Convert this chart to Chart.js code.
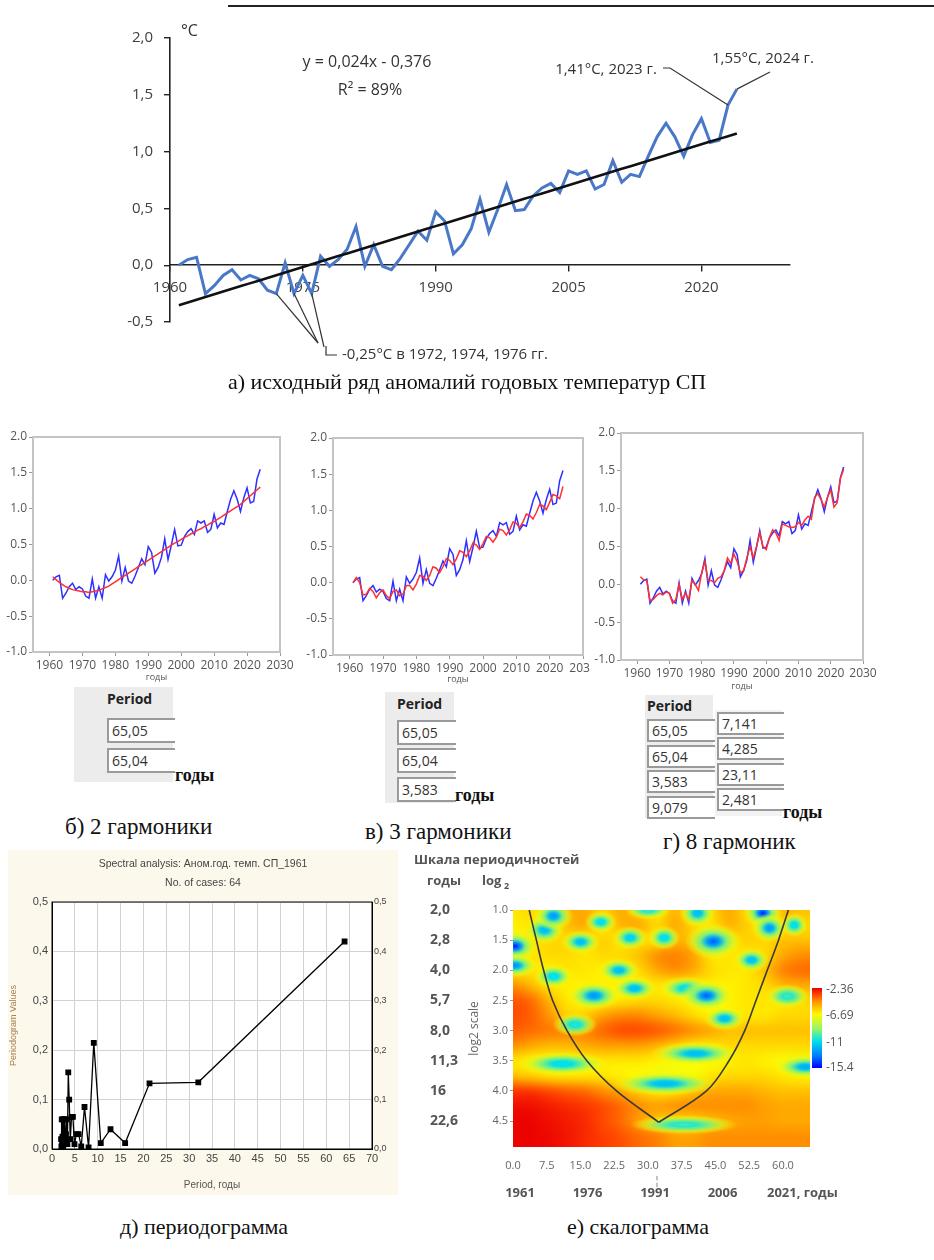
<!DOCTYPE html>
<html>
<head>
<meta charset="utf-8">
<script src="https://cdn.jsdelivr.net/npm/chart.js@4.4.1/dist/chart.umd.min.js"></script>
<style>
  body { margin: 0; background: #fff; width: 934px; height: 1260px; position: relative; overflow: hidden; font-family: "Open Sans", sans-serif; }
  .box { position: absolute; }
  .cap { position: absolute; font-family: "Liberation Serif", serif; font-size: 23px; color: #111; white-space: nowrap; line-height: 1; }
  .yrs { position: absolute; font-family: "Liberation Serif", serif; font-size: 18px; font-weight: bold; color: #111; line-height: 1; }
  .tbl { position: absolute; background: #ececec; }
  .ttl { position: absolute; font-size: 14px; font-weight: bold; color: #222; line-height: 1; }
  .fld { position: absolute; height: 21px; border: 2px solid #9a9a9a; border-right: none; background: #fff; font-size: 14px; color: #333; line-height: 21px; padding-left: 3px; box-sizing: content-box; }
  .cbl { position: absolute; font-size: 12px; color: #555; line-height: 1; }
</style>
</head>
<body>

<div class="box" style="left:228px;top:5px;width:706px;height:2px;background:#222"></div>

<div class="box" style="left:0;top:0;width:934px;height:370px"><canvas id="anom"></canvas></div>
<div class="cap" style="left:228px;top:371px;font-size:22px">а) исходный ряд аномалий годовых температур СП</div>

<div class="box" style="left:0;top:427px;width:300px;height:256px"><canvas id="harm2"></canvas></div>
<div class="box" style="left:300px;top:427px;width:290px;height:258px"><canvas id="harm3"></canvas></div>
<div class="box" style="left:590px;top:420px;width:300px;height:272px"><canvas id="harm8"></canvas></div>

<!-- period tables -->
<div class="tbl" style="left:74px;top:687px;width:99px;height:95px"></div>
<div class="ttl" style="left:107px;top:692px">Period</div>
<div class="fld" style="left:107px;top:718px;width:63px">65,05</div>
<div class="fld" style="left:107px;top:748px;width:63px">65,04</div>
<div class="yrs" style="left:175px;top:766px">годы</div>

<div class="tbl" style="left:385px;top:692px;width:69px;height:111px"></div>
<div class="ttl" style="left:397px;top:697px">Period</div>
<div class="fld" style="left:397px;top:720px;width:54px">65,05</div>
<div class="fld" style="left:397px;top:748px;width:54px">65,04</div>
<div class="fld" style="left:397px;top:777px;width:54px">3,583</div>
<div class="yrs" style="left:455px;top:786px">годы</div>

<div class="tbl" style="left:645px;top:695px;width:68px;height:123px"></div>
<div class="tbl" style="left:715px;top:710px;width:67px;height:106px;background:#f2f2f2"></div>
<div class="ttl" style="left:647px;top:699px">Period</div>
<div class="fld" style="left:647px;top:719px;width:63px;height:19px;line-height:19px">65,05</div>
<div class="fld" style="left:647px;top:745px;width:63px;height:19px;line-height:19px">65,04</div>
<div class="fld" style="left:647px;top:770px;width:63px;height:19px;line-height:19px">3,583</div>
<div class="fld" style="left:647px;top:796px;width:63px;height:19px;line-height:19px">9,079</div>
<div class="fld" style="left:717px;top:712px;width:62px;height:19px;line-height:19px">7,141</div>
<div class="fld" style="left:717px;top:737px;width:62px;height:19px;line-height:19px">4,285</div>
<div class="fld" style="left:717px;top:763px;width:62px;height:19px;line-height:19px">23,11</div>
<div class="fld" style="left:717px;top:788px;width:62px;height:19px;line-height:19px">2,481</div>
<div class="yrs" style="left:783px;top:803px">годы</div>

<div class="cap" style="left:65px;top:815px">б) 2 гармоники</div>
<div class="cap" style="left:365px;top:820px">в) 3 гармоники</div>
<div class="cap" style="left:663px;top:830px">г) 8 гармоник</div>

<div class="box" style="left:8px;top:850px;width:390px;height:345px;background:#fcf8ec"><canvas id="period"></canvas></div>
<div class="box" style="left:410px;top:848px;width:524px;height:360px"><canvas id="scalo"></canvas></div>
<div class="box" id="cbar" style="left:812px;top:988px;width:10px;height:80px"></div>
<div class="cbl" style="left:826px;top:983px">-2.36</div>
<div class="cbl" style="left:826px;top:1009px">-6.69</div>
<div class="cbl" style="left:826px;top:1036px">-11</div>
<div class="cbl" style="left:826px;top:1061px">-15.4</div>

<div class="cap" style="left:120px;top:1216px;font-size:22px">д) периодограмма</div>
<div class="cap" style="left:567px;top:1216px;font-size:22px">е) скалограмма</div>

<script>
// ---- data ----
var years = [1961, 1962, 1963, 1964, 1965, 1966, 1967, 1968, 1969, 1970,
  1971, 1972, 1973, 1974, 1975, 1976, 1977, 1978, 1979, 1980,
  1981, 1982, 1983, 1984, 1985, 1986, 1987, 1988, 1989, 1990,
  1991, 1992, 1993, 1994, 1995, 1996, 1997, 1998, 1999, 2000,
  2001, 2002, 2003, 2004, 2005, 2006, 2007, 2008, 2009, 2010,
  2011, 2012, 2013, 2014, 2015, 2016, 2017, 2018, 2019, 2020,
  2021, 2022, 2023, 2024];

// annual temperature anomalies, °C
var anomaly = [0.00, 0.05, 0.07, -0.25, -0.18, -0.09, -0.04, -0.13, -0.09, -0.12,
  -0.22, -0.25, 0.02, -0.25, -0.09, -0.25, 0.08, -0.01, 0.05, 0.14,
  0.34, -0.01, 0.18, -0.01, -0.04, 0.06, 0.18, 0.30, 0.22, 0.47,
  0.39, 0.10, 0.18, 0.32, 0.58, 0.29, 0.49, 0.71, 0.48, 0.49,
  0.61, 0.68, 0.72, 0.64, 0.83, 0.80, 0.83, 0.67, 0.71, 0.92,
  0.73, 0.80, 0.78, 0.96, 1.13, 1.25, 1.13, 0.96, 1.15, 1.29,
  1.08, 1.10, 1.41, 1.55];

// linear trend from the legend: y = 0,024x - 0,376 (x = 1 for 1961)
var trendSlope = 0.024;
var trendIntercept = -0.376;

// harmonic models
var fit2 = [0.05, 0.01, -0.03, -0.06, -0.09, -0.11, -0.13, -0.14, -0.15, -0.16,
  -0.16, -0.17, -0.16, -0.15, -0.14, -0.12, -0.10, -0.08, -0.05, -0.02,
  0.01, 0.04, 0.07, 0.10, 0.13, 0.16, 0.19, 0.22, 0.25, 0.28,
  0.31, 0.34, 0.37, 0.40, 0.43, 0.46, 0.49, 0.52, 0.54, 0.57,
  0.60, 0.62, 0.65, 0.67, 0.70, 0.72, 0.75, 0.77, 0.80, 0.82,
  0.85, 0.88, 0.91, 0.94, 0.97, 1.00, 1.03, 1.06, 1.10, 1.14,
  1.18, 1.22, 1.26, 1.30];
var fit3 = [0.00, 0.07, 0.00, -0.17, -0.16, -0.08, -0.12, -0.21, -0.14, -0.10,
  -0.18, -0.22, -0.12, -0.10, -0.18, -0.16, -0.04, -0.04, -0.10, -0.02,
  0.10, 0.09, 0.03, 0.10, 0.22, 0.20, 0.14, 0.22, 0.33, 0.31,
  0.25, 0.33, 0.44, 0.42, 0.36, 0.44, 0.55, 0.52, 0.46, 0.54,
  0.64, 0.62, 0.56, 0.63, 0.74, 0.72, 0.66, 0.73, 0.84, 0.82,
  0.76, 0.84, 0.95, 0.93, 0.88, 0.97, 1.08, 1.06, 1.01, 1.11,
  1.22, 1.20, 1.16, 1.33];
var fit8 = [0.10, 0.06, 0.05, -0.22, -0.20, -0.15, -0.12, -0.14, -0.10, -0.12,
  -0.25, -0.20, 0.00, -0.20, -0.12, -0.20, 0.05, 0.00, -0.08, 0.15,
  0.30, 0.05, 0.05, 0.02, 0.08, 0.10, 0.18, 0.35, 0.28, 0.40,
  0.30, 0.15, 0.18, 0.35, 0.50, 0.35, 0.50, 0.68, 0.50, 0.46,
  0.62, 0.72, 0.68, 0.58, 0.80, 0.78, 0.76, 0.75, 0.76, 0.82,
  0.78, 0.85, 0.90, 0.86, 1.15, 1.20, 1.12, 1.02, 1.15, 1.25,
  1.02, 1.08, 1.40, 1.52];

// periodogram (period in years, value)
var periodYears = [2.0, 2.06, 2.13, 2.21, 2.29, 2.37, 2.46, 2.56, 2.67, 2.78,
  2.91, 3.05, 3.2, 3.37, 3.56, 3.76, 4.0, 4.27, 4.57, 4.92,
  5.33, 5.82, 6.4, 7.11, 8.0, 9.14, 10.67, 12.8, 16.0, 21.33,
  32.0, 64.0];
var periodValues = [0.02, 0.005, 0.06, 0.01, 0.025, 0.06, 0.005, 0.06, 0.02, 0.06,
  0.01, 0.03, 0.06, 0.01, 0.155, 0.10, 0.02, 0.065, 0.065, 0.01,
  0.03, 0.03, 0.005, 0.085, 0.003, 0.215, 0.012, 0.04, 0.012, 0.133,
  0.135, 0.42];

// scalogram background: log2 power on a grid of shifts (columns) and log2 scales (rows)
var shiftCols = [0, 4, 8, 12, 16, 20, 24, 28, 32, 36, 40, 44, 48, 52, 56, 60, 64];
var scaleLevels = [1.0, 1.25, 1.5, 1.75, 2.0, 2.25, 2.5, 2.75, 3.0, 3.25, 3.5, 3.75, 4.0, 4.25, 4.5, 4.75, 5.0];
var powerRows = [
  [-6.3, -6, -6.5, -5.2, -5, -6, -5, -6, -6.5, -5.2, -6.5, -6, -5, -6, -6.5, -5.2, -5.5],
  [-6.5, -6.3, -6.5, -5.5, -5, -6.5, -5.2, -5, -6, -5, -6, -6.3, -5.2, -5.8, -6.5, -6, -6],
  [-6.8, -6.3, -6, -6, -6.3, -5.8, -6.3, -6, -6.3, -5.3, -5.5, -6.5, -6.3, -5.8, -6, -5.5, -5.5],
  [-6.5, -6.3, -6, -6, -6.3, -6, -6, -5.5, -4.5, -4.3, -4.8, -6.3, -6.3, -6.3, -6, -5, -4.5],
  [-6.3, -6.3, -6.5, -6.3, -6.3, -6.5, -6.5, -6, -5, -4.5, -5, -6, -6.3, -6.3, -5.5, -4.3, -4],
  [-4.5, -5.3, -6.3, -6.5, -6.5, -6.5, -6.5, -6.5, -6.3, -6.5, -6.5, -6.5, -6.5, -6.3, -6, -5.3, -5],
  [-3.6, -4, -5.2, -6.3, -6.5, -6.5, -6.3, -6, -6, -6.3, -6.5, -6.8, -6.5, -6.3, -6.3, -6.3, -6],
  [-3.5, -3.8, -4.6, -5.8, -5.8, -4.8, -4.4, -4.4, -4.8, -5.3, -6, -6.5, -6.5, -6.3, -6.3, -6, -6],
  [-3.8, -4, -4.2, -4.4, -4.4, -3.9, -3.5, -3.5, -3.7, -4.1, -4.5, -5, -5.5, -5.5, -5.5, -5.5, -5.5],
  [-4.5, -5, -5.3, -5.3, -5, -4.8, -4.8, -4.8, -5.2, -5.8, -6.3, -6.3, -6, -6, -6, -6, -6],
  [-6.3, -6.5, -6.8, -6.8, -6.5, -6.3, -6.3, -6.3, -6.5, -6.8, -6.8, -6.8, -6.5, -6.3, -6.5, -6.8, -7],
  [-5.5, -5.8, -6.2, -6.3, -6.3, -6.3, -6.5, -6.8, -7, -7, -6.8, -6.3, -6, -6, -6, -6.3, -6.5],
  [-3.2, -3.2, -3.5, -3.8, -4, -4.5, -5, -5.8, -6.3, -6.2, -5.5, -5, -5, -5, -5.3, -5.5, -5.5],
  [-2.6, -2.6, -2.8, -3, -3.2, -3.5, -4, -4.5, -4.8, -4.5, -4.5, -4.5, -4.5, -4.5, -4.8, -5, -5],
  [-2.4, -2.4, -2.6, -2.8, -3, -3.5, -4, -4.8, -5.5, -6, -5.8, -5.3, -5, -4.8, -4.8, -5, -5],
  [-2.4, -2.4, -2.5, -2.7, -3, -3.3, -3.6, -4, -4.3, -4.8, -4.8, -4.5, -4.5, -4.5, -4.5, -4.5, -4.5],
  [-2.4, -2.4, -2.5, -2.7, -3, -3.3, -3.6, -4, -4.3, -4.8, -4.8, -4.5, -4.5, -4.5, -4.5, -4.5, -4.5]
];
// local power minima of the scalogram: shift, log2 scale, power, half-width (shift), half-height (log2)
var minShift = [0.5, 0.5, 7, 9, 15, 19.5, 26, 30, 33.6, 41, 44.5, 53, 55.5, 57, 62.5,
  9, 23.5, 18, 27, 38.5, 43, 47, 61, 13.8, 11, 40.5, 33.8, 65, 38];
var minScale = [1.6, 1.92, 1.33, 1.1, 1.53, 1.2, 1.46, 1.0, 1.46, 1.05, 1.52, 1.83, 1.05, 1.3, 1.25,
  2.1, 2.0, 2.42, 2.3, 2.3, 2.42, 2.8, 2.43, 2.9, 3.55, 3.38, 3.88, 3.6, 4.56];
var minPower = [-15, -13, -12, -13, -12, -11, -11.5, -10, -11, -12, -14, -12, -15, -13, -11,
  -11, -12, -13, -12, -11, -14, -12, -10, -10.5, -11, -12, -12, -12.5, -10];
var minHalfW = [2.5, 2.5, 2.2, 2.2, 2.2, 1.8, 2, 2.5, 1.8, 2, 3.2, 2, 2.2, 2, 1.5,
  2.2, 2.3, 3, 2.5, 3, 3, 2.3, 2.5, 2.5, 5, 5, 6, 3.5, 6];
var minHalfH = [0.13, 0.1, 0.12, 0.12, 0.1, 0.09, 0.1, 0.08, 0.1, 0.12, 0.15, 0.1, 0.12, 0.12, 0.1,
  0.1, 0.1, 0.12, 0.1, 0.1, 0.13, 0.1, 0.1, 0.1, 0.1, 0.1, 0.1, 0.1, 0.08];
// cone of influence
var coneLeftX = [3.6, 5.2, 6.8, 8.8, 12, 16.4, 23, 32.4];
var coneLeftY = [1.0, 1.5, 2.0, 2.5, 3.0, 3.5, 4.0, 4.52];
var coneRightX = [32.4, 43, 48, 51.5, 54, 56.5, 59, 61.2];
var coneRightY = [4.52, 4.0, 3.5, 3.0, 2.5, 2.0, 1.5, 1.0];

// tick labels
var anomYearTicks = [1960, 1975, 1990, 2005, 2020];
var anomValueTicks = [-0.5, 0, 0.5, 1.0, 1.5, 2.0];
var smallYearTicks = [1960, 1970, 1980, 1990, 2000, 2010, 2020, 2030];
var smallValueTicks = [-1.0, -0.5, 0.0, 0.5, 1.0, 1.5, 2.0];
var periodTicks = [0, 5, 10, 15, 20, 25, 30, 35, 40, 45, 50, 55, 60, 65, 70];
var periodValueTicks = [0, 0.1, 0.2, 0.3, 0.4, 0.5];
var shiftTicks = [0, 7.5, 15, 22.5, 30, 37.5, 45, 52.5, 60];
var scaleTicks = [1.0, 1.5, 2.0, 2.5, 3.0, 3.5, 4.0, 4.5];
var periodScaleLabels = ['2,0', '2,8', '4,0', '5,7', '8,0', '11,3', '16', '22,6'];
var shiftYearLabels = ['1961', '1976', '1991', '2006', '2021, годы'];
var shiftYearAt = [0, 15, 30, 45, 60];

// colour scale of the scalogram
var powerStops = [-15.4, -13.5, -11, -9, -6.69, -4.6, -3.3, -2.36];
var stopColors = [[0, 0, 255], [0, 120, 255], [0, 225, 235], [150, 245, 100], [255, 250, 0], [255, 150, 0], [255, 60, 0], [235, 0, 0]];

Chart.defaults.font.family = '"Open Sans", sans-serif';
Chart.defaults.animation = false;
Chart.defaults.plugins.legend.display = false;
Chart.defaults.plugins.tooltip.enabled = false;
Chart.defaults.responsive = true;
Chart.defaults.maintainAspectRatio = false;

function setTicks(list) {
    return function(axis) { axis.ticks = list.map(function(v) { return {value: v}; }); };
}
function comma(v, d) { return v.toFixed(d).replace('.', ','); }

function powerRgb(v) {
    if (v <= powerStops[0]) return stopColors[0];
    for (var i = 1; i < powerStops.length; i++) {
        if (v <= powerStops[i]) {
            var t = (v - powerStops[i - 1]) / (powerStops[i] - powerStops[i - 1]);
            var a = stopColors[i - 1], b = stopColors[i];
            return [0, 1, 2].map(function(k) { return Math.round(a[k] + (b[k] - a[k]) * t); });
        }
    }
    return stopColors[stopColors.length - 1];
}
function rgba(c, a) { return 'rgba(' + c[0] + ',' + c[1] + ',' + c[2] + ',' + a + ')'; }

function frame(color, width) {
    return {
        id: 'frame',
        afterDraw: function(chart) {
            var a = chart.chartArea, ctx = chart.ctx;
            ctx.save();
            ctx.strokeStyle = color;
            ctx.lineWidth = width;
            ctx.strokeRect(a.left, a.top, a.right - a.left, a.bottom - a.top);
            ctx.restore();
        }
    };
}

function pts(xs, ys) { return xs.map(function(x, i) { return {x: x, y: ys[i]}; }); }

// ---------- a) source series ----------
var trendValues = years.map(function(yr, i) { return trendSlope * (i + 1) + trendIntercept; });

var anomNotes = {
    id: 'anomNotes',
    afterDatasetsDraw: function(chart) {
        var ctx = chart.ctx, x = chart.scales.x, y = chart.scales.y;
        function at(i) { return [x.getPixelForValue(years[i]), y.getPixelForValue(anomaly[i])]; }
        function path(list) {
            ctx.beginPath();
            ctx.moveTo(list[0][0], list[0][1]);
            for (var k = 1; k < list.length; k++) ctx.lineTo(list[k][0], list[k][1]);
            ctx.stroke();
        }
        ctx.save();
        ctx.fillStyle = '#333';
        ctx.strokeStyle = '#333';
        ctx.lineWidth = 1.2;
        ctx.font = '16px "Open Sans"';
        ctx.textBaseline = 'middle';
        ctx.textAlign = 'center';
        ctx.fillText('y = 0,024x - 0,376', 367, 62);
        ctx.fillText('R² = 89%', 370, 90);
        ctx.textAlign = 'left';
        ctx.fillText('°C', 181, 31);

        ctx.font = '15px "Open Sans"';
        var p23 = at(years.indexOf(2023));
        path([[663, 68], [670, 68], p23]);
        ctx.textAlign = 'right';
        ctx.fillText('1,41°C, 2023 г.', 657, 70);

        var p24 = at(years.indexOf(2024));
        path([p24, [770, 72]]);
        ctx.textAlign = 'left';
        ctx.fillText('1,55°C, 2024 г.', 712, 59);

        [1972, 1974].forEach(function(yr) { path([at(years.indexOf(yr)), [318, 343]]); });
        path([at(years.indexOf(1976)), [324, 347]]);
        path([[326, 346], [326, 355], [337, 355]]);
        ctx.fillText('-0,25°C в 1972, 1974, 1976 гг.', 342, 355);
        ctx.restore();
    }
};

new Chart(document.getElementById('anom'), {
    type: 'line',
    data: {
        datasets: [
            {data: pts(years, trendValues), borderColor: '#111', borderWidth: 2.6, pointRadius: 0},
            {data: pts(years, anomaly), borderColor: '#4a78c8', borderWidth: 3, pointRadius: 0}
        ]
    },
    options: {
        layout: {padding: {left: 0, right: 144, top: 38, bottom: 48}},
        scales: {
            x: {
                type: 'linear', min: 1960, max: 2030, position: {y: 0},
                afterBuildTicks: setTicks(anomYearTicks),
                ticks: {color: '#404040', font: {size: 15}, padding: 8, callback: function(v) { return String(v); }},
                grid: {drawOnChartArea: false, drawTicks: true, tickLength: 6, color: '#222', lineWidth: 1.4},
                border: {color: '#222', width: 1.6}
            },
            y: {
                min: -0.5, max: 2.0,
                afterBuildTicks: setTicks(anomValueTicks),
                afterFit: function(s) { s.width = 170; },
                ticks: {color: '#404040', font: {size: 15}, padding: 11, callback: function(v) { return comma(v, 1); }},
                grid: {drawOnChartArea: false, drawTicks: true, tickLength: 6, color: '#222', lineWidth: 1.4},
                border: {color: '#222', width: 1.6}
            }
        }
    },
    plugins: [anomNotes]
});

// ---------- б, в, г) harmonic models ----------
function harmChart(id, fit, padTop, padRight, yWidth, xHeight) {
    new Chart(document.getElementById(id), {
        type: 'line',
        data: {
            datasets: [
                {data: pts(years, fit), borderColor: '#ff3030', borderWidth: 1.5, pointRadius: 0},
                {data: pts(years, anomaly), borderColor: '#2f2fff', borderWidth: 1.5, pointRadius: 0}
            ]
        },
        options: {
            layout: {padding: {top: padTop, right: padRight, left: 0, bottom: 0}},
            scales: {
                x: {
                    type: 'linear', min: 1955, max: 2030,
                    afterBuildTicks: setTicks(smallYearTicks),
                    afterFit: function(s) { s.height = xHeight; s.paddingLeft = 0; s.paddingRight = 0; },
                    ticks: {color: '#555', font: {size: 12}, padding: 2, maxRotation: 0, autoSkip: false, callback: function(v) { return String(v); }},
                    grid: {drawOnChartArea: false, tickLength: 4, color: '#999'},
                    border: {color: '#bbb', width: 2},
                    title: {display: true, text: 'годы', color: '#555', font: {size: 9}, padding: 0}
                },
                y: {
                    type: 'linear', min: -1, max: 2,
                    afterBuildTicks: setTicks(smallValueTicks),
                    afterFit: function(s) { s.width = yWidth; },
                    ticks: {color: '#555', font: {size: 12}, padding: 2, callback: function(v) { return v.toFixed(1); }},
                    grid: {drawOnChartArea: false, tickLength: 4, color: '#999'},
                    border: {color: '#bbb', width: 2}
                }
            }
        },
        plugins: [frame('#c4c4c4', 2)]
    });
}
harmChart('harm2', fit2, 10, 20, 33, 31);
harmChart('harm3', fit3, 11, 7, 33, 30);
harmChart('harm8', fit8, 13, 27, 31, 32);

// ---------- д) periodogram ----------
var periodTitles = {
    id: 'periodTitles',
    beforeDraw: function(chart) {
        var ctx = chart.ctx, a = chart.chartArea;
        ctx.save();
        ctx.fillStyle = '#fff';
        ctx.fillRect(a.left, a.top, a.right - a.left, a.bottom - a.top);
        ctx.fillStyle = '#444';
        ctx.font = '10.5px "Liberation Sans"';
        ctx.textAlign = 'center';
        ctx.textBaseline = 'middle';
        ctx.fillText('Spectral analysis: Аном.год. темп. СП_1961', 195, 14);
        ctx.fillText('No. of cases: 64', 195, 33);
        ctx.restore();
    }
};

new Chart(document.getElementById('period'), {
    type: 'scatter',
    data: {
        datasets: [{
            data: pts(periodYears, periodValues), showLine: true,
            borderColor: '#000', borderWidth: 1.3,
            pointStyle: 'rect', pointRadius: 3.2, pointBackgroundColor: '#000', pointBorderColor: '#000'
        }]
    },
    options: {
        layout: {padding: {top: 52, right: 0, left: 0, bottom: 0}},
        scales: {
            x: {
                min: 0, max: 70,
                afterBuildTicks: setTicks(periodTicks),
                afterFit: function(s) { s.height = 46; },
                ticks: {color: '#444', font: {size: 11, family: '"Liberation Sans"'}, padding: 3},
                grid: {color: '#d2d2d2', drawTicks: false},
                border: {color: '#000'},
                title: {display: true, text: 'Period, годы', color: '#555', font: {size: 10, family: '"Liberation Sans"'}, padding: {top: 4}}
            },
            y: {
                min: 0, max: 0.5,
                afterBuildTicks: setTicks(periodValueTicks),
                afterFit: function(s) { s.width = 44; },
                ticks: {color: '#444', font: {size: 11, family: '"Liberation Sans"'}, padding: 4, callback: function(v) { return comma(v, 1); }},
                grid: {color: '#d2d2d2', drawTicks: false},
                border: {color: '#000'},
                title: {display: true, text: 'Periodogram Values', color: '#a8804f', font: {size: 9, family: '"Liberation Sans"'}, padding: 0}
            },
            y2: {
                position: 'right', min: 0, max: 0.5,
                afterBuildTicks: setTicks(periodValueTicks),
                afterFit: function(s) { s.width = 26; },
                ticks: {color: '#444', font: {size: 9, family: '"Liberation Sans"'}, padding: 2, callback: function(v) { return comma(v, 1); }},
                grid: {drawOnChartArea: false, drawTicks: false},
                border: {color: '#000'}
            }
        }
    },
    plugins: [periodTitles, frame('#000', 1)]
});

// ---------- е) scalogram ----------
var heatmap = {
    id: 'heatmap',
    beforeDatasetsDraw: function(chart) {
        var ctx = chart.ctx, a = chart.chartArea, x = chart.scales.x, y = chart.scales.y;
        // background field: one pixel per grid cell, stretched with smoothing over the scales
        var nc = shiftCols.length, nr = scaleLevels.length;
        var off = document.createElement('canvas');
        off.width = nc; off.height = nr;
        var octx = off.getContext('2d');
        var img = octx.createImageData(nc, nr);
        powerRows.forEach(function(row, i) {
            row.forEach(function(v, j) {
                var c = powerRgb(v), k = (i * nc + j) * 4;
                img.data[k] = c[0]; img.data[k + 1] = c[1]; img.data[k + 2] = c[2]; img.data[k + 3] = 255;
            });
        });
        octx.putImageData(img, 0, 0);
        var cw = x.getPixelForValue(shiftCols[1]) - x.getPixelForValue(shiftCols[0]);
        var ch = y.getPixelForValue(scaleLevels[1]) - y.getPixelForValue(scaleLevels[0]);
        var dx = x.getPixelForValue(shiftCols[0]) - cw / 2;
        var dy = y.getPixelForValue(scaleLevels[0]) - ch / 2;
        ctx.save();
        ctx.beginPath();
        ctx.rect(a.left, a.top, a.right - a.left, a.bottom - a.top);
        ctx.clip();
        ctx.imageSmoothingEnabled = true;
        ctx.imageSmoothingQuality = 'high';
        ctx.drawImage(off, 0, 0, nc, nr, dx, dy, cw * nc, ch * nr);

        // local minima as soft elliptic spots
        minShift.forEach(function(s, i) {
            var cx = x.getPixelForValue(s), cy = y.getPixelForValue(minScale[i]);
            var rx = x.getPixelForValue(s + minHalfW[i]) - cx;
            var ry = y.getPixelForValue(minScale[i] + minHalfH[i]) - cy;
            var v = minPower[i], r = ry * 2;
            ctx.save();
            ctx.translate(cx, cy);
            ctx.scale(rx / ry, 1);
            var g = ctx.createRadialGradient(0, 0, 0, 0, 0, r);
            g.addColorStop(0, rgba(powerRgb(v), 1));
            g.addColorStop(0.22, rgba(powerRgb((v - 11) / 2), 1));
            g.addColorStop(0.45, rgba(powerRgb(-9.5), 0.95));
            g.addColorStop(0.7, rgba(powerRgb(-7.8), 0.7));
            g.addColorStop(1, rgba(powerRgb(-6.69), 0));
            ctx.fillStyle = g;
            ctx.beginPath();
            ctx.arc(0, 0, r, 0, Math.PI * 2);
            ctx.fill();
            ctx.restore();
        });
        ctx.restore();
    },
    afterDraw: function(chart) {
        var ctx = chart.ctx, a = chart.chartArea, x = chart.scales.x, y = chart.scales.y;
        ctx.save();
        ctx.fillStyle = '#555';
        ctx.textBaseline = 'middle';
        ctx.font = 'bold 13px "Open Sans"';
        ctx.textAlign = 'left';
        ctx.fillText('Шкала периодичностей', 4, 12);
        ctx.fillText('годы', 17, 33);
        ctx.fillText('log', 72, 33);
        ctx.font = 'bold 9px "Open Sans"';
        ctx.fillText('2', 94, 38);
        ctx.font = 'bold 14px "Open Sans"';
        scaleTicks.forEach(function(v, i) { ctx.fillText(periodScaleLabels[i], 20, y.getPixelForValue(v)); });
        ctx.font = 'bold 13px "Open Sans"';
        shiftYearAt.forEach(function(v, i) {
            var px = x.getPixelForValue(v);
            if (i === shiftYearAt.length - 1) { ctx.textAlign = 'left'; ctx.fillText(shiftYearLabels[i], px - 16, 345); }
            else { ctx.textAlign = 'center'; ctx.fillText(shiftYearLabels[i], px + 7, 345); }
        });
        ctx.font = '10px "Open Sans"';
        ctx.textAlign = 'center';
        ctx.fillText('¦', x.getPixelForValue(32), 333);
        ctx.translate(65, (a.top + a.bottom) / 2);
        ctx.rotate(-Math.PI / 2);
        ctx.font = '12px "Open Sans"';
        ctx.fillStyle = '#666';
        ctx.fillText('log2 scale', 0, 0);
        ctx.restore();
    }
};

new Chart(document.getElementById('scalo'), {
    type: 'scatter',
    data: {
        datasets: [
            {data: pts(coneLeftX, coneLeftY), showLine: true, borderColor: '#3a3a3a', borderWidth: 1.6, pointRadius: 0, tension: 0.35},
            {data: pts(coneRightX, coneRightY), showLine: true, borderColor: '#3a3a3a', borderWidth: 1.6, pointRadius: 0, tension: 0.35}
        ]
    },
    options: {
        layout: {padding: {top: 62, right: 124, left: 0, bottom: 0}},
        scales: {
            x: {
                min: 0, max: 66,
                afterBuildTicks: setTicks(shiftTicks),
                afterFit: function(s) { s.height = 61; s.paddingLeft = 0; s.paddingRight = 0; },
                ticks: {color: '#666', font: {size: 11}, padding: 4, maxRotation: 0, callback: function(v) { return v.toFixed(1); }},
                grid: {display: false},
                border: {display: false}
            },
            y: {
                reverse: true, min: 1.0, max: 4.93,
                afterBuildTicks: setTicks(scaleTicks),
                afterFit: function(s) { s.width = 103; },
                ticks: {color: '#666', font: {size: 11}, padding: 2, callback: function(v) { return v.toFixed(1); }},
                grid: {drawOnChartArea: false, tickLength: 3, color: '#999'},
                border: {display: false}
            }
        }
    },
    plugins: [heatmap]
});

// colour bar
var span = powerStops[powerStops.length - 1] - powerStops[0];
document.getElementById('cbar').style.background = 'linear-gradient(to top, ' + powerStops.map(function(v, i) {
    return 'rgb(' + stopColors[i].join(',') + ') ' + ((v - powerStops[0]) / span * 100).toFixed(1) + '%';
}).join(', ') + ')';
</script>
</body>
</html>
